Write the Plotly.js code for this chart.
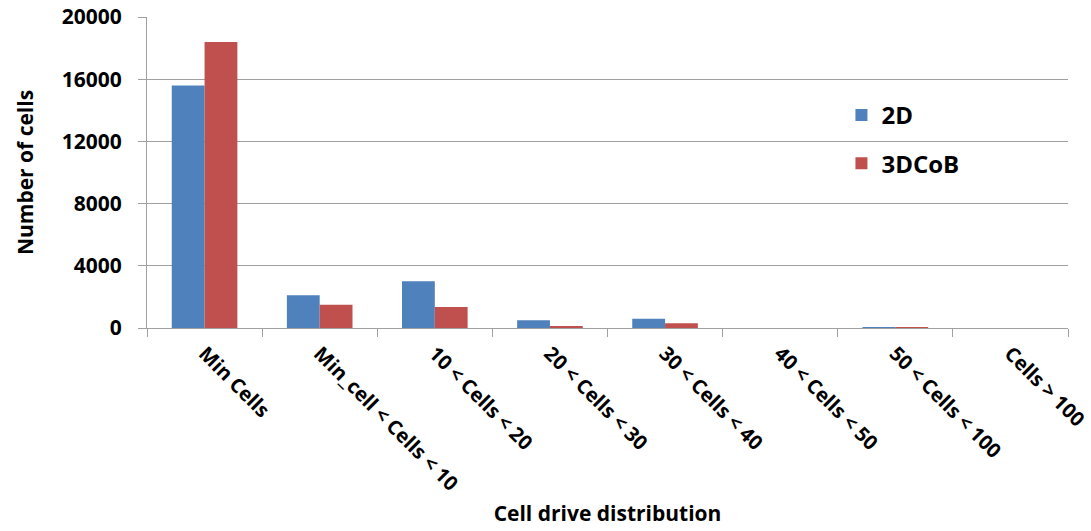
<!DOCTYPE html>
<html>
<head>
<meta charset="utf-8">
<script src="https://cdn.plot.ly/plotly-3.0.1.min.js"></script>
<style>html,body{margin:0;padding:0;background:#fff;}#chart{width:1091px;height:531px;}</style>
</head>
<body>
<div id="chart"></div>
<script>
const categories = ["Min Cells", "Min_cell < Cells < 10", "10 < Cells < 20", "20 < Cells < 30", "30 < Cells < 40", "40 < Cells < 50", "50 < Cells < 100", "Cells > 100"];
const values2D = [15600, 2100, 3000, 500, 600, 0, 60, 0];
const values3DCoB = [18400, 1500, 1350, 130, 300, 0, 60, 0];
const yTicks = [0, 4000, 8000, 12000, 16000, 20000];

const FONT = "Open Sans, sans-serif";
const traces = [
  {type: "bar", name: "2D", x: categories, y: values2D, marker: {color: "#4f81bd"}, legendgroup: "a"},
  {type: "bar", name: "3DCoB", x: categories, y: values3DCoB, marker: {color: "#c0504d"}, legendgroup: "b"}
];
const layout = {
  width: 1091, height: 531,
  margin: {l: 147, r: 23, t: 17, b: 203},
  paper_bgcolor: "#fff", plot_bgcolor: "#fff",
  barmode: "group", bargap: 0.43, bargroupgap: 0,
  font: {family: FONT, color: "#000"},
  xaxis: {
    type: "category", tickangle: 45, tickson: "boundaries",
    ticks: "outside", ticklen: 8, tickcolor: "#a0a0a0",
    showline: true, linecolor: "#a0a0a0", linewidth: 1,
    showgrid: false, zeroline: false, ticklabelstandoff: 5,
    tickfont: {family: FONT, size: 20, color: "#000", weight: "bold"},
    title: {text: "<b>Cell drive distribution</b>", font: {family: FONT, size: 21, color: "#000"}, standoff: 10}
  },
  yaxis: {
    range: [0, 20000], tickvals: yTicks, ticktext: yTicks.map(String),
    ticks: "outside", ticklen: 8, tickcolor: "#a0a0a0",
    showline: true, linecolor: "#a0a0a0", linewidth: 1,
    showgrid: true, gridcolor: "#a0a0a0", gridwidth: 1,
    zeroline: false, ticklabelstandoff: 12,
    tickfont: {family: FONT, size: 21, color: "#000", weight: "bold"},
    title: {text: "<b>Number of cells</b>", font: {family: FONT, size: 21, color: "#000"}, standoff: 22}
  },
  legend: {
    x: 0.754, xanchor: "left", y: 0.756, yanchor: "top",
    bgcolor: "rgba(0,0,0,0)", tracegroupgap: 14, traceorder: "grouped",
    font: {family: FONT, size: 24, color: "#000", weight: "bold"}
  },
  showlegend: true
};
Plotly.newPlot("chart", traces, layout, {displayModeBar: false, staticPlot: true});
</script>
</body>
</html>
